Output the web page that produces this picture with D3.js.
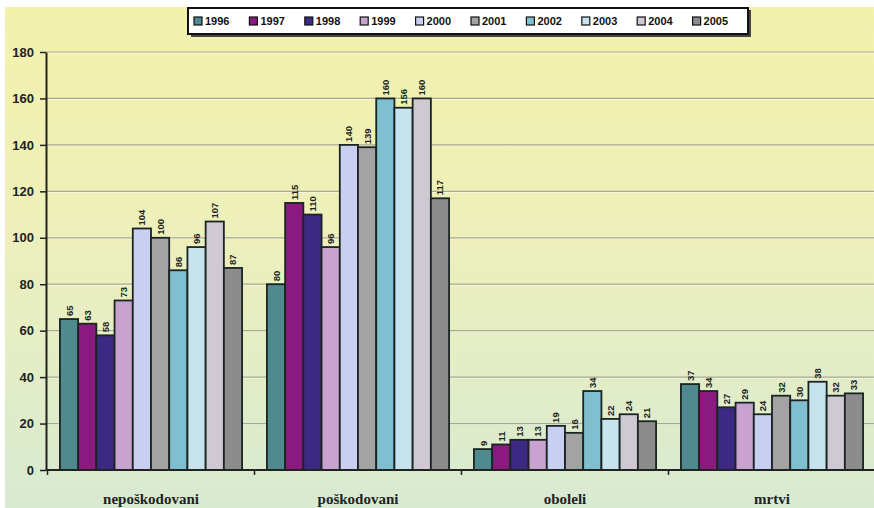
<!DOCTYPE html>
<html><head><meta charset="utf-8">
<script src="https://cdn.jsdelivr.net/npm/d3@7"></script>
<style>body{margin:0;background:#fff}svg{display:block}</style>
</head><body>
<svg id="c" width="874" height="508"></svg>
<script>
const categories = ["nepoškodovani", "poškodovani", "oboleli", "mrtvi"];
const years = ["1996","1997","1998","1999","2000","2001","2002","2003","2004","2005"];
const v1996 = [65, 80, 9, 37];
const v1997 = [63, 115, 11, 34];
const v1998 = [58, 110, 13, 27];
const v1999 = [73, 96, 13, 29];
const v2000 = [104, 140, 19, 24];
const v2001 = [100, 139, 16, 32];
const v2002 = [86, 160, 34, 30];
const v2003 = [96, 156, 22, 38];
const v2004 = [107, 160, 24, 32];
const v2005 = [87, 117, 21, 33];
const yTicks = [0, 20, 40, 60, 80, 100, 120, 140, 160, 180];
const colors = ["#4f8b8e","#8a1a80","#3c2a82","#c9a3cf","#c8cff0","#a3a3a3","#7fbfcf","#c6e3ee","#cfc9d3","#8c8c8c"];

const series = [v1996,v1997,v1998,v1999,v2000,v2001,v2002,v2003,v2004,v2005];
const svg = d3.select("#c");

const defs = svg.append("defs");
const g = defs.append("linearGradient").attr("id","bg").attr("x1",0).attr("y1",0).attr("x2",0).attr("y2",1);
g.append("stop").attr("offset","0%").attr("stop-color","#f3f1ab");
g.append("stop").attr("offset","45%").attr("stop-color","#eef0bb");
g.append("stop").attr("offset","100%").attr("stop-color","#d8ead2");
svg.append("rect").attr("x",5).attr("y",7).attr("width",869).attr("height",501).attr("fill","url(#bg)");

const x0 = d3.scaleBand().domain(categories).range([47.5, 875.5]).paddingInner(0.12).paddingOuter(0.06);
const x1 = d3.scaleBand().domain(years).range([0, x0.bandwidth()]);
const y = d3.scaleLinear().domain([0, 180]).range([470, 52]);

// gridlines
svg.append("g").selectAll("line").data(yTicks.filter(d=>d>0)).join("line")
  .attr("x1",46).attr("x2",874).attr("y1",d=>y(d)+1).attr("y2",d=>y(d)+1)
  .attr("stroke","#ffffff").attr("stroke-opacity",0.6);
svg.append("g").selectAll("line").data(yTicks.filter(d=>d>0)).join("line")
  .attr("x1",46).attr("x2",874).attr("y1",d=>y(d)).attr("y2",d=>y(d))
  .attr("stroke","#a9a98f").attr("stroke-width",1.2);

// bars
const data = [];
categories.forEach((c,ci)=>years.forEach((yr,yi)=>data.push({c,yr,yi,v:series[yi][ci]})));
svg.append("g").selectAll("rect").data(data).join("rect")
  .attr("x",d=>x0(d.c)+x1(d.yr))
  .attr("y",d=>y(d.v))
  .attr("width",x1.bandwidth())
  .attr("height",d=>y(0)-y(d.v))
  .attr("fill",d=>colors[d.yi])
  .attr("stroke","#1a2422").attr("stroke-width",1.8);

// value labels
svg.append("g").selectAll("text").data(data).join("text")
  .attr("transform",d=>`translate(${x0(d.c)+x1(d.yr)+x1.bandwidth()/2+3.5},${y(d.v)-3}) rotate(-90)`)
  .attr("font-family","Arial, Liberation Sans, sans-serif").attr("font-weight","bold")
  .attr("font-size",9.5).attr("fill","#222").text(d=>d.v);

// axes
const yAxis = d3.axisLeft(y).tickValues(yTicks).tickSize(6).tickSizeOuter(0);
const ya = svg.append("g").attr("transform","translate(46,0)").call(yAxis);
ya.select(".domain").attr("stroke","#222").attr("stroke-width",2);
ya.selectAll(".tick line").attr("stroke","#222").attr("stroke-width",1.5);
ya.selectAll("text").attr("font-family","Arial, Liberation Sans, sans-serif").attr("font-weight","bold")
  .attr("font-size",13).attr("fill","#222").attr("x",-12);

const xa = svg.append("g").attr("transform","translate(0,470)");
xa.append("line").attr("x1",46).attr("x2",874).attr("stroke","#222").attr("stroke-width",2);
xa.selectAll("line.t").data(categories.map((c,i)=>x0(c)-x0.step()*x0.paddingInner()/2)).join("line")
  .attr("class","t").attr("x1",d=>d).attr("x2",d=>d).attr("y1",0).attr("y2",5).attr("stroke","#222").attr("stroke-width",1.5);
xa.selectAll("text").data(categories).join("text")
  .attr("x",d=>x0(d)+x0.bandwidth()/2).attr("y",34)
  .attr("text-anchor","middle")
  .attr("font-family","Liberation Serif, Times New Roman, serif").attr("font-weight","bold")
  .attr("font-size",15).attr("fill","#222").text(d=>d);

// legend
const lg = svg.append("g");
lg.append("rect").attr("x",191).attr("y",10).attr("width",560).attr("height",27).attr("fill","#444");
lg.append("rect").attr("x",188).attr("y",8).attr("width",560).attr("height",26).attr("fill","#fff").attr("stroke","#111").attr("stroke-width",2);
const li = lg.selectAll("g.i").data(years).join("g").attr("class","i")
  .attr("transform",(d,i)=>`translate(${194+i*55.4},21)`);
li.append("rect").attr("x",0).attr("y",-4).attr("width",8).attr("height",8)
  .attr("fill",(d,i)=>colors[i]).attr("stroke","#111").attr("stroke-width",1.2);
li.append("text").attr("x",11).attr("y",4).attr("font-family","Arial, Liberation Sans, sans-serif")
  .attr("font-weight","bold").attr("font-size",11).attr("fill","#111").text(d=>d);
</script>
</body></html>
